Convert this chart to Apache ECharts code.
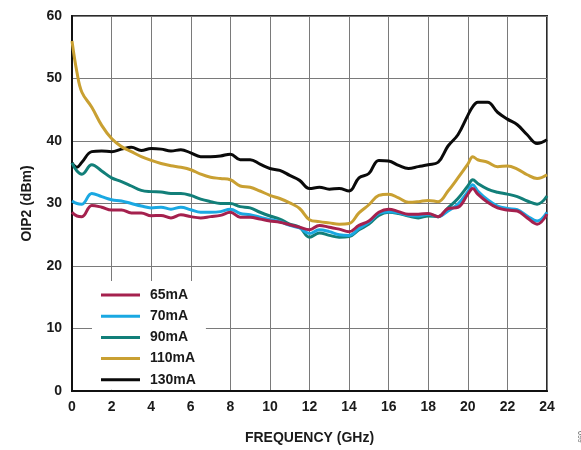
<!DOCTYPE html>
<html>
<head>
<meta charset="utf-8">
<script src="https://cdn.jsdelivr.net/npm/echarts@6/dist/echarts.min.js"></script>
<style>
  html, body { margin: 0; padding: 0; background: #fff; }
  #chart { width: 581px; height: 450px; }
</style>
</head>
<body>
<div id="chart"></div>
<script>
// Frequency points (GHz) shared by all bias-current curves
const freq = [0,0.25,0.5,1,1.5,2,2.5,3,3.5,4,4.5,5,5.5,6,6.5,7,7.5,8,8.5,9,9.5,10,10.5,11,11.5,12,12.5,13,13.5,14,14.5,15,15.5,16,16.5,17,17.5,18,18.5,19,19.5,20,20.25,20.5,21,21.5,22,22.5,23,23.5,24];

// OIP2 (dBm) for each supply current
const oip2_65mA  = [28.6,28.0,27.9,29.7,29.4,28.95,28.95,28.5,28.5,28.05,28.1,27.7,28.2,27.9,27.7,27.9,28.1,28.6,27.8,27.8,27.5,27.2,27.0,26.6,26.2,25.8,26.5,26.2,25.9,25.5,26.5,27.2,28.6,29.1,28.7,28.3,28.3,28.4,27.9,29.2,29.4,31.5,32.4,31.5,30.2,29.3,28.95,28.8,27.7,26.7,28.3];
const oip2_70mA  = [30.4,30.0,29.9,31.6,31.1,30.6,30.4,30.0,29.6,29.3,29.4,29.1,29.4,29.0,28.6,28.6,28.7,29.1,28.4,28.2,27.8,27.4,27.1,26.5,26.1,25.2,25.8,25.5,25.0,24.9,26.0,27.0,28.4,28.7,28.5,28.1,28.0,28.3,27.9,28.8,29.9,31.9,33.0,32.0,30.6,29.6,29.2,29.0,28.0,27.2,28.6];
const oip2_90mA  = [36.5,35.2,34.7,36.2,35.2,34.1,33.5,32.8,32.1,31.9,31.85,31.6,31.6,31.3,30.7,30.3,30.0,30.0,29.5,29.3,28.6,28.0,27.5,26.7,26.2,24.6,25.3,24.9,24.6,24.7,25.8,26.7,28.1,28.6,28.4,28.0,27.7,28.0,27.9,29.3,30.8,32.8,33.8,33.2,32.3,31.8,31.5,31.1,30.4,29.9,31.2];
const oip2_110mA = [56,51,47.8,45.4,42.5,40.4,39.1,38.3,37.5,36.9,36.4,36.05,35.8,35.4,34.7,34.2,34.0,33.8,32.8,32.6,32.0,31.3,30.8,30.1,29.2,27.4,27.1,26.9,26.7,26.8,28.5,29.8,31.3,31.5,30.9,30.2,30.3,30.5,30.3,32.0,34.1,36.3,37.5,37.0,36.6,35.9,36.0,35.5,34.6,34.0,34.6];
const oip2_130mA = [36.5,35.8,36.6,38.3,38.4,38.3,38.7,39.0,38.5,38.8,38.7,38.4,38.6,38.1,37.5,37.5,37.6,37.9,37.0,37.0,36.3,35.6,35.3,34.5,33.7,32.4,32.6,32.3,32.4,32.0,34.1,34.8,36.9,36.8,36.1,35.6,35.9,36.2,36.6,39.2,41.0,44.1,45.5,46.2,46.2,44.6,43.5,42.6,41.0,39.6,40.2];

const legendNames = ['65mA', '70mA', '90mA', '110mA', '130mA'];

const FONT = "'Liberation Sans', Arial, Helvetica, sans-serif";

function pairs(values) {
  return freq.map((f, i) => [f, values[i]]);
}

function curve(name, values, color) {
  return {
    name: name,
    type: 'line',
    data: pairs(values),
    smooth: 0.4,
    showSymbol: false,
    symbol: 'none',
    lineStyle: { width: 3, color: color },
    itemStyle: { color: color }
  };
}

const chart = echarts.init(document.getElementById('chart'), null, { renderer: 'canvas' });

chart.setOption({
  backgroundColor: '#ffffff',
  animation: false,
  grid: {
    left: 72, right: 34, top: 16, bottom: 54,
    show: true, borderColor: '#2b2b2b', borderWidth: 2, backgroundColor: 'transparent'
  },
  xAxis: {
    type: 'value', min: 0, max: 24, interval: 2,
    name: 'FREQUENCY (GHz)', nameLocation: 'middle', nameGap: 40,
    nameTextStyle: { fontFamily: FONT, fontWeight: 'bold', fontSize: 14, color: '#1a1a1a' },
    axisLine: { show: true, lineStyle: { color: '#111', width: 2 } },
    axisTick: { show: false },
    axisLabel: { margin: 9, fontFamily: FONT, fontWeight: 'bold', fontSize: 14, color: '#1a1a1a' },
    splitLine: { show: true, lineStyle: { color: '#7a7a7a', width: 1 } }
  },
  yAxis: {
    type: 'value', min: 0, max: 60, interval: 10,
    name: 'OIP2 (dBm)', nameLocation: 'middle', nameGap: 38,
    nameTextStyle: { fontFamily: FONT, fontWeight: 'bold', fontSize: 14, color: '#1a1a1a' },
    axisLine: { show: true, lineStyle: { color: '#111', width: 2 } },
    axisTick: { show: false },
    axisLabel: { margin: 10, fontFamily: FONT, fontWeight: 'bold', fontSize: 14, color: '#1a1a1a' },
    splitLine: { show: true, lineStyle: { color: '#7a7a7a', width: 1 } }
  },
  legend: {
    data: legendNames,
    orient: 'vertical',
    left: 92, top: 281,
    padding: [6, 10, 2, 9],
    backgroundColor: '#ffffff',
    icon: 'rect',
    itemWidth: 39, itemHeight: 3,
    itemGap: 5.2,
    selectedMode: false,
    textStyle: { fontFamily: FONT, fontWeight: 'bold', fontSize: 14, color: '#1a1a1a', lineHeight: 16, padding: [0, 0, 0, 5] }
  },
  graphic: [{
    type: 'text', x: 583, y: 431, rotation: -Math.PI / 2,
    style: { text: '099', fontFamily: FONT, fontSize: 7, fill: '#555' }
  }],
  series: [
    curve('130mA', oip2_130mA, '#0a0a0a'),
    curve('110mA', oip2_110mA, '#c9a032'),
    curve('90mA', oip2_90mA, '#127f79'),
    curve('70mA', oip2_70mA, '#1aa8e2'),
    curve('65mA', oip2_65mA, '#a5214e')
  ]
});
</script>
</body>
</html>
